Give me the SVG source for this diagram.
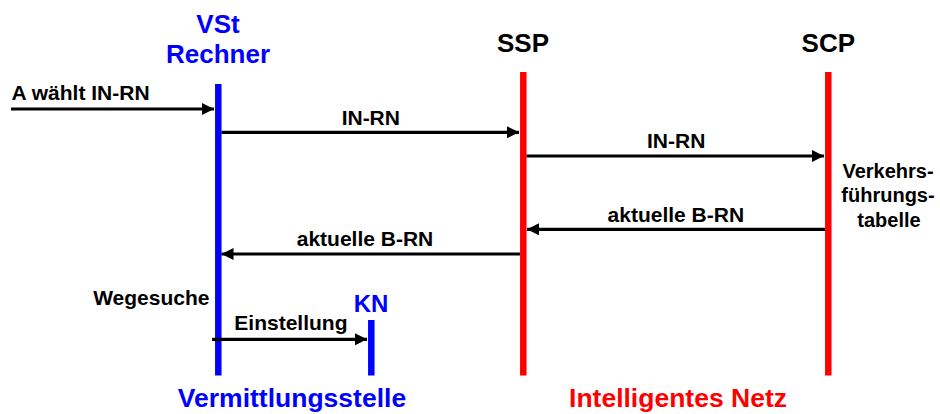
<svg xmlns="http://www.w3.org/2000/svg" width="940" height="414" viewBox="0 0 940 414">
  <defs>
    <marker id="arrow" viewBox="0 0 12 12" refX="12" refY="6" markerWidth="12" markerHeight="12" markerUnits="userSpaceOnUse" orient="auto">
      <path d="M0,0 L12,6 L0,12 Z" fill="#000"/>
    </marker>
    <style>
      text { font-family: "Liberation Sans", Arial, Helvetica, sans-serif; font-weight: bold; }
      .lbl { font-size: 21px; fill: #000; }
      .note { font-size: 20px; fill: #000; text-anchor: middle; }
      .head { font-size: 26px; text-anchor: middle; }
      .blue { fill: #0000FF; }
      .red { fill: #FF0000; }
      .black { fill: #000; }
      .life-blue { stroke: #0000FF; stroke-width: 6.5; }
      .life-red { stroke: #FF0000; stroke-width: 6.5; }
      .msg { stroke: #000; stroke-width: 3.2; fill: none; marker-end: url(#arrow); }
    </style>
  </defs>
  <rect width="940" height="414" fill="#fff"/>

  <!-- Switching centre computer -->
  <g id="vst">
    <text class="head blue" x="218" y="33">VSt</text>
    <text class="head blue" x="218" y="63">Rechner</text>
    <line class="life-blue" x1="218.3" y1="84" x2="218.3" y2="375.5"/>
  </g>

  <!-- Service switching point -->
  <g id="ssp">
    <text class="head black" x="523" y="52">SSP</text>
    <line class="life-red" x1="523.3" y1="72" x2="523.3" y2="375.5"/>
  </g>

  <!-- Service control point -->
  <g id="scp">
    <text class="head black" x="828.3" y="52">SCP</text>
    <line class="life-red" x1="828.3" y1="72" x2="828.3" y2="375.5"/>
    <text class="note" x="888" y="178">Verkehrs-</text>
    <text class="note" x="888" y="202">führungs-</text>
    <text class="note" x="889" y="227">tabelle</text>
  </g>

  <!-- Switching network -->
  <g id="kn">
    <text class="blue" x="371" y="312" style="font-size:24px;text-anchor:middle">KN</text>
    <line class="life-blue" x1="371.3" y1="320" x2="371.3" y2="375.5"/>
  </g>

  <!-- Messages -->
  <g id="connectors">
    <line class="msg" x1="11" y1="109" x2="214" y2="109"/>
    <line class="msg" x1="221.5" y1="132.3" x2="519" y2="132.3"/>
    <line class="msg" x1="526.5" y1="156" x2="824" y2="156"/>
    <line class="msg" x1="825" y1="229.3" x2="527" y2="229.3"/>
    <line class="msg" x1="520" y1="254" x2="221.5" y2="254"/>
    <line class="msg" x1="212" y1="339.3" x2="367" y2="339.3"/>
  </g>

  <g id="labels">
    <text class="lbl" x="11.5" y="99.5">A wählt IN-RN</text>
    <text class="lbl" x="370.8" y="125" text-anchor="middle">IN-RN</text>
    <text class="lbl" x="676.2" y="148.3" text-anchor="middle">IN-RN</text>
    <text class="lbl" x="675.8" y="221.7" text-anchor="middle">aktuelle B-RN</text>
    <text class="lbl" x="365" y="246" text-anchor="middle">aktuelle B-RN</text>
    <text class="lbl" x="209.5" y="305" text-anchor="end">Wegesuche</text>
    <text class="lbl" x="234.3" y="330">Einstellung</text>
  </g>

  <!-- Domain captions -->
  <g id="captions">
    <text class="blue" x="292" y="407" style="font-size:26.5px;text-anchor:middle">Vermittlungsstelle</text>
    <text class="red" x="678" y="407" style="font-size:26.5px;text-anchor:middle">Intelligentes Netz</text>
  </g>
</svg>
